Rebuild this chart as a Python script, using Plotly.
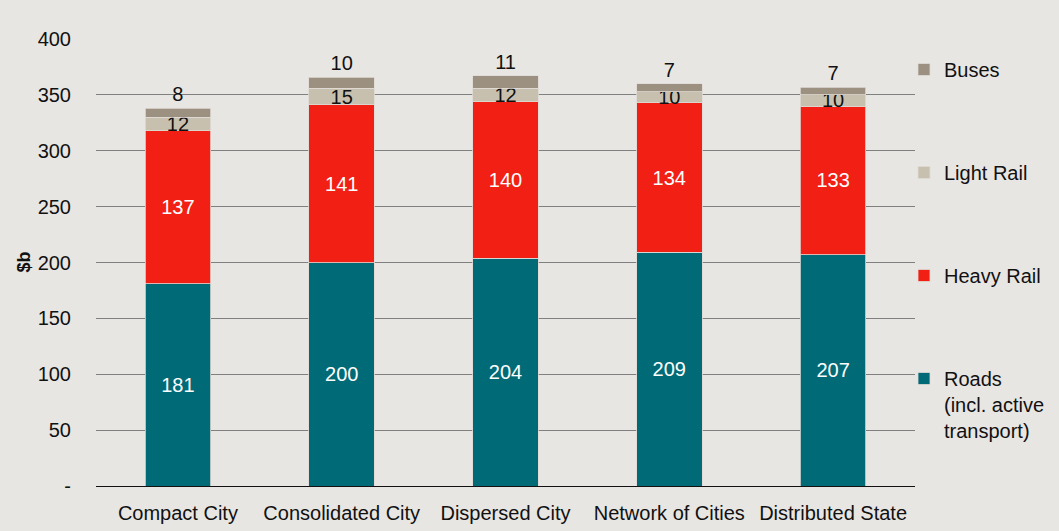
import plotly.graph_objects as go

# Infrastructure investment by growth scenario ($b)
scenarios = ["Compact City", "Consolidated City", "Dispersed City",
             "Network of Cities", "Distributed State"]
roads = [181, 200, 204, 209, 207]
heavy_rail = [137, 141, 140, 134, 133]
light_rail = [12, 15, 12, 10, 10]
buses = [8, 10, 11, 7, 7]

y_tickvals = [0, 50, 100, 150, 200, 250, 300, 350, 400]
y_ticktext = ["-", "50", "100", "150", "200", "250", "300", "350", "400"]

FONT = "Liberation Sans, Arial, sans-serif"
BG = "#E8E6E2"
W, H = 1059, 531
ML, MR, MT, MB = 96, 144, 39, 45
FS = 20

series = [
    ("Roads<br>(incl. active<br>transport)", roads, "#006B77", "white"),
    ("Heavy Rail", heavy_rail, "#F21F15", "white"),
    ("Light Rail", light_rail, "#C8C0AE", "#111111"),
    ("Buses", buses, "#9C9080", "#111111"),
]

fig = go.Figure()
for i, (name, vals, color, tcolor) in enumerate(series):
    top = i == len(series) - 1
    fig.add_trace(go.Bar(
        x=scenarios, y=vals, name=name,
        legendgroup=str(i),
        legendrank=len(series) - i,
        marker=dict(color=color, line=dict(color="#DEDAD4", width=0.8)),
        text=vals,
        textposition="outside" if top else "inside",
        insidetextanchor="middle",
        textfont=dict(family=FONT, size=FS, color=tcolor),
        outsidetextfont=dict(family=FONT, size=FS, color="#111111"),
        constraintext="none",
        cliponaxis=False,
        hoverinfo="x+y+name",
    ))

fig.update_layout(
    barmode="stack",
    bargap=0.6,
    width=W, height=H,
    margin=dict(l=ML, r=MR, t=MT, b=MB, autoexpand=False),
    paper_bgcolor=BG, plot_bgcolor=BG,
    font=dict(family=FONT, size=FS, color="#111111"),
    uniformtext=dict(mode="show", minsize=FS),
    showlegend=True,
    legend=dict(
        traceorder="grouped",
        tracegroupgap=74,
        valign="top",
        x=904 / W, xref="container", xanchor="left",
        y=1 - 50 / H, yref="container", yanchor="top",
        maxheight=1,
        font=dict(family=FONT, size=FS, color="#111111"),
        bgcolor="rgba(0,0,0,0)",
        itemwidth=30,
    ),
    xaxis=dict(
        showline=True, linecolor="#111111", linewidth=1.2,
        showgrid=False, ticks="",
        tickfont=dict(family=FONT, size=FS, color="#111111"),
        ticklabelstandoff=9,
    ),
    yaxis=dict(
        range=[0, 400],
        tickvals=y_tickvals, ticktext=y_ticktext,
        showgrid=True, gridcolor="#808080", gridwidth=1,
        zeroline=False,
        ticks="",
        tickfont=dict(family=FONT, size=FS, color="#111111"),
        ticklabelstandoff=24,
    ),
    annotations=[dict(
        text="<b>$b</b>", textangle=-90,
        x=(23 - ML) / (W - ML - MR), xref="paper", xanchor="center",
        y=0.5, yref="paper", yanchor="middle",
        showarrow=False,
        font=dict(family=FONT, size=18, color="#111111"),
    )],
)

fig.write_html("out.html")
